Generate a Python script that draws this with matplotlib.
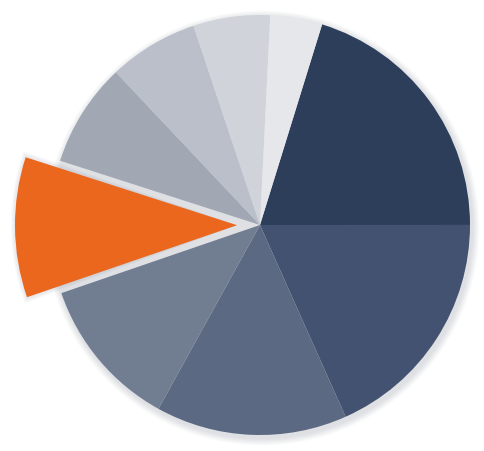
import matplotlib.pyplot as plt
from matplotlib.patches import Circle, Wedge

# slice shares (clockwise from the dark navy slice)
shares = [20.2, 18.3, 14.7, 11.7, 10.2, 8.0, 6.9, 5.9, 4.0]
colors = ['#2c3e5a', '#435270', '#5b6983', '#717d91', '#eb671e',
          '#a1a8b4', '#babfc9', '#d0d3da', '#e6e7eb']
highlight = 4  # orange slice pulled out

cx, cy, r = 260, 226, 210

fig = plt.figure(figsize=(4.84, 4.52), dpi=100)
ax = fig.add_axes([0, 0, 1, 1])

# soft drop shadow
for i in range(8):
    ax.add_patch(Circle((cx + 2, 452 - cy - 3), r + 1 + i * 0.9,
                        color='#8a90a0', alpha=0.035, lw=0, zorder=0))

explode = [0] * len(shares)
explode[highlight] = 23  # pie takes the offset in data units
wedges, _ = ax.pie(shares, colors=colors, startangle=72.8, counterclock=False,
                   radius=r, center=(cx, 452 - cy), explode=explode,
                   wedgeprops=dict(linewidth=0))
for w in wedges:
    w.set_zorder(2)
hw = wedges[highlight]
hw.set_radius(222)
hw.set_zorder(4)

# faint shadow around the pulled-out slice
for i in range(4):
    ax.add_patch(Wedge(hw.center, 222 + 1 + i, hw.theta1 - 0.4 - i * 0.3,
                       hw.theta2 + 0.4 + i * 0.3, color='#9aa0ae',
                       alpha=0.06, lw=0, zorder=3))

ax.set_xlim(0, 484)
ax.set_ylim(0, 452)
ax.set_aspect('equal')
ax.axis('off')

plt.savefig('out.png', dpi=100)
